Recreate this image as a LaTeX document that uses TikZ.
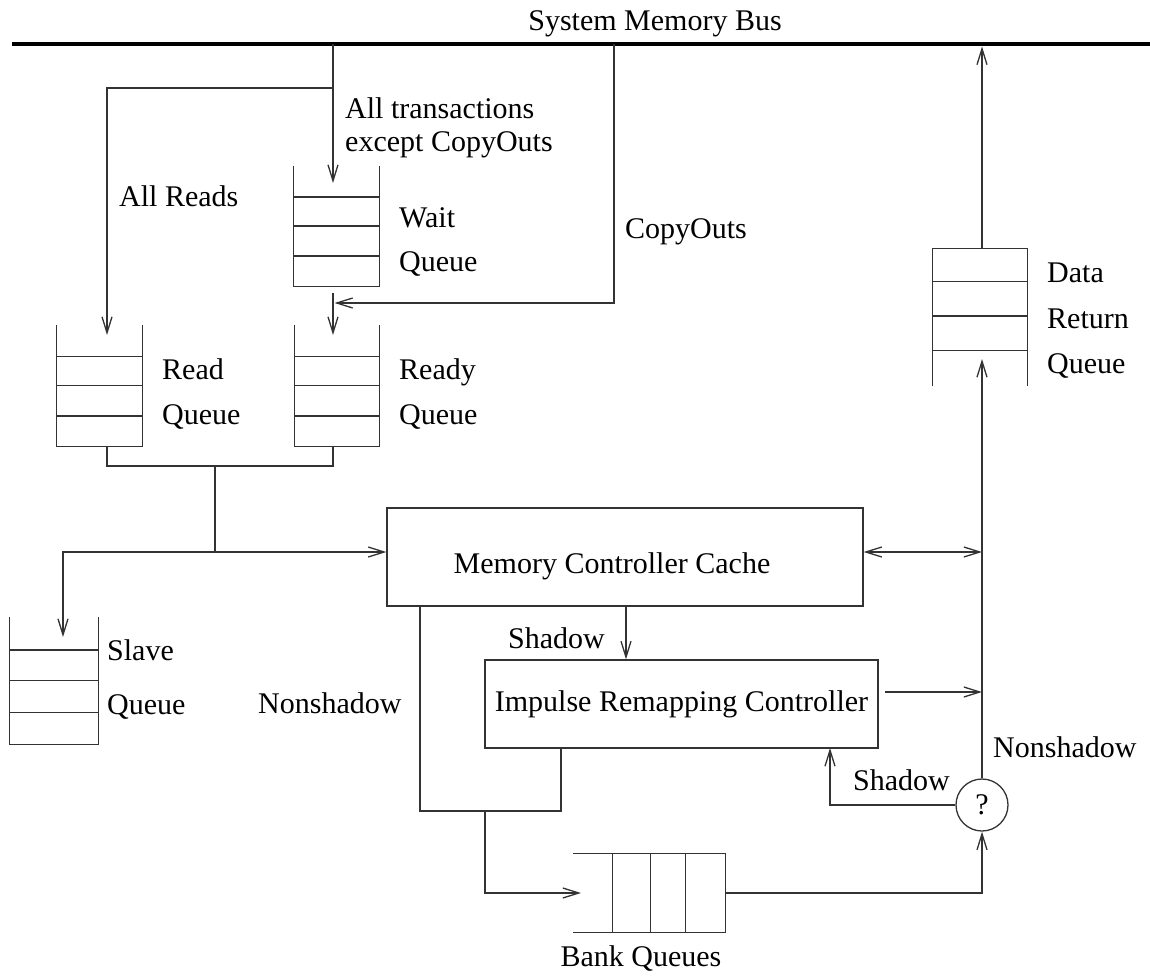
\documentclass[tikz,border=0pt]{standalone}
\usepackage{fontspec}
\setmainfont{Liberation Serif}
\usetikzlibrary{arrows.meta,calc}
\colorlet{lc}{black!80}
\newcommand\mkqdown[1]{%
  \draw[ln] (#1.north west) -- (#1.south west) -- (#1.south east) -- (#1.north east);
  \foreach \f in {0.26,0.5,0.75}{\draw[ln] ($(#1.north west)!\f!(#1.south west)$) -- ($(#1.north east)!\f!(#1.south east)$);}}
\newcommand\mkqup[1]{%
  \draw[ln] (#1.south west) -- (#1.north west) -- (#1.north east) -- (#1.south east);
  \foreach \f in {0.24,0.49,0.74}{\draw[ln] ($(#1.north west)!\f!(#1.south west)$) -- ($(#1.north east)!\f!(#1.south east)$);}}
\newcommand\mkqright[1]{%
  \draw[ln] (#1.north west) -- (#1.north east) -- (#1.south east) -- (#1.south west);
  \foreach \f in {0.26,0.51,0.74}{\draw[ln] ($(#1.north west)!\f!(#1.north east)$) -- ($(#1.south west)!\f!(#1.south east)$);}}
\begin{document}
\begin{tikzpicture}[x=1pt,y=-1pt,
  every node/.style={font=\fontsize{30}{33}\selectfont, inner sep=0pt},
  ln/.style={draw=lc, line width=1.3pt},
  arr/.style={-{Straight Barb[length=16pt,width=10pt]}},
  darr/.style={{Straight Barb[length=16pt,width=10pt]}-{Straight Barb[length=16pt,width=10pt]}},
  lbl/.style={anchor=base west},
  box/.style={draw=lc, line width=1.3pt, rectangle, inner sep=0pt},
  qarea/.style={rectangle, draw=none, inner sep=0pt}]
\useasboundingbox (0,0) rectangle (1150,976);

% system bus
\coordinate (busL) at (12,44);
\coordinate (busR) at (1150,44);
\draw[draw=black, line width=4pt] (busL) -- (busR);
\node[anchor=base] (busname) at (655,31) {System Memory Bus};

% queues
\node[qarea, minimum width=85, minimum height=120] (wq) at (336.5,226) {};
\node[qarea, minimum width=85, minimum height=121] (rq) at (99.5,385.5) {};
\node[qarea, minimum width=85, minimum height=121] (yq) at (337,385.5) {};
\node[qarea, minimum width=88, minimum height=127] (sq) at (54,680.5) {};
\node[qarea, minimum width=95, minimum height=137] (dq) at (980,317.5) {};
\node[qarea, minimum width=152, minimum height=78] (bq) at (649,893) {};
\mkqdown{wq}
\mkqdown{rq}
\mkqdown{yq}
\mkqdown{sq}
\mkqup{dq}
\mkqright{bq}

% boxes
\node[box, minimum width=476, minimum height=98, text height=32pt, text depth=0pt] (mcc) at (625,557) {\hspace*{-26pt}Memory Controller Cache};
\node[box, minimum width=393, minimum height=88] (irc) at (681.5,704) {Impulse Remapping Controller};
\node[draw=lc, line width=1.3pt, circle, minimum size=52] (dec) at (982,805) {?};

% labels
\node[lbl] (allt1) at (345,119) {All transactions};
\node[lbl] (allt2) at (345,152) {except CopyOuts};
\node[lbl] (allreads) at (119,207) {All Reads};
\node[lbl] (wait) at (399,228) {Wait};
\node[lbl] (waitq) at (399,271) {Queue};
\node[lbl] (copyouts) at (625,239) {CopyOuts};
\node[lbl] (data) at (1047,282) {Data};
\node[lbl] (ret) at (1047,328) {Return};
\node[lbl] (dataq) at (1047,373) {Queue};
\node[lbl] (read) at (162,379) {Read};
\node[lbl] (readq) at (162,424) {Queue};
\node[lbl] (ready) at (399,379) {Ready};
\node[lbl] (readyq) at (399,424) {Queue};
\node[lbl] (slave) at (107,660) {Slave};
\node[lbl] (slaveq) at (107,714) {Queue};
\node[lbl] (nonsh1) at (258,713) {Nonshadow};
\node[lbl] (shadow1) at (508,648) {Shadow};
\node[lbl] (shadow2) at (853,790) {Shadow};
\node[lbl] (nonsh2) at (993,757) {Nonshadow};
\node[anchor=base] (bank) at (641,966) {Bank Queues};

% connector points
\coordinate (tapA) at (333,44);
\coordinate (tapB) at (614,44);
\coordinate (tapC) at (982,46.5);
\coordinate (splitA) at (333,88);
\coordinate (wqin) at (333,183);
\coordinate (rqin) at (107,335);
\coordinate (cpin) at (334.5,303);
\coordinate (wqout) at (333,293);
\coordinate (yqin) at (333,335);
\coordinate (rqout) at (107,446);
\coordinate (yqout) at (333,446);
\coordinate (mergeM) at (215,466);
\coordinate (jn) at (215,552);
\coordinate (sqin) at (63,637);
\coordinate (vA) at (982,552);
\coordinate (vB) at (982,692);
\coordinate (ircout) at (885,692);
\coordinate (shx) at (626,0);
\coordinate (ns1) at (420,606);
\coordinate (ns2) at (561,811);
\coordinate (ns3) at (561,748);
\coordinate (ns4) at (485,811);
\coordinate (bqin) at (581,893);
\coordinate (dqin) at (982,359);
\coordinate (dqout) at (982,249);
\coordinate (shin) at (830,748);

% connectors
\draw[ln,arr] (tapA) -- (wqin);
\draw[ln,arr] (splitA) -| (rqin);
\draw[ln,arr] (tapB) |- (cpin);
\draw[ln,arr] (wqout) -- (yqin);
\draw[ln] (rqout) |- (mergeM) -| (yqout);
\draw[ln] (mergeM) -- (jn);
\draw[ln,arr] (jn) -- (jn -| mcc.west);
\draw[ln,arr] (jn) -| (sqin);
\draw[ln,darr] (mcc.east |- vA) -- (vA);
\draw[ln,arr] (mcc.south -| shx) -- (irc.north -| shx);
\draw[ln] (ns1) |- (ns2) -- (ns3);
\draw[ln,arr] (ns4) |- (bqin);
\draw[ln,arr] (ircout) -- (vB);
\draw[ln,arr] (bq.east) -| (dec.south);
\draw[ln,arr] (dec.north) -- (dqin);
\draw[ln,arr] (dec.west) -| (shin);
\draw[ln,arr] (dqout) -- (tapC);
\end{tikzpicture}
\end{document}
